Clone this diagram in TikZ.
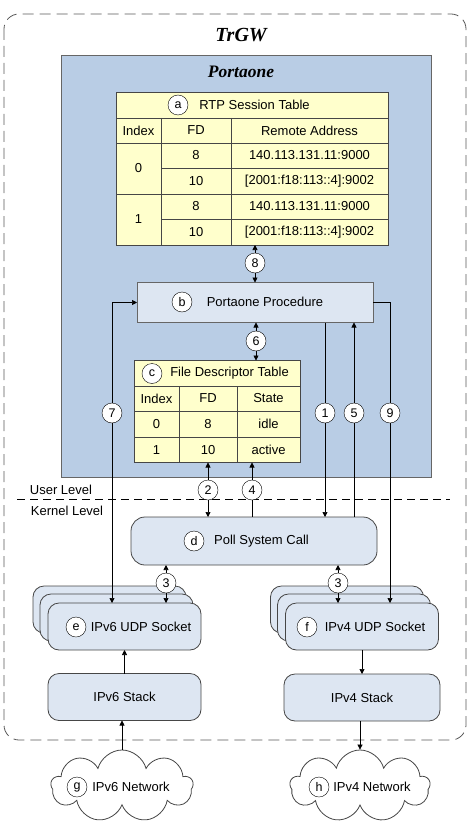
\documentclass[tikz,border=0pt]{standalone}
\usepackage{fontspec}
\setmainfont{Liberation Sans}
\newfontfamily\titlefont{Liberation Serif}
\usetikzlibrary{arrows.meta,shapes.symbols,positioning}

\definecolor{portablue}{RGB}{185,205,229}
\definecolor{procblue}{RGB}{221,230,242}
\definecolor{tableyellow}{RGB}{255,255,204}
\definecolor{linegray}{RGB}{70,70,70}

\begin{document}
\begin{tikzpicture}[x=1pt,y=-1pt,>={Triangle[length=5pt,width=5pt]},
  font=\fontsize{13}{15}\selectfont,
  tag/.style={circle,draw,fill=white,inner sep=0pt,minimum size=20pt,font=\fontsize{12.5}{12}\selectfont},
  tbl/.style={draw=linegray,fill=tableyellow,line width=0.8pt,inner sep=0pt,outer sep=0pt},
  grid/.style={draw=linegray,line width=0.8pt},
  kbox/.style={draw=linegray,fill=procblue,line width=0.8pt,rounded corners=11pt,minimum width=153pt,minimum height=47pt,inner sep=0pt,outer sep=0pt},
  conn/.style={line width=0.7pt}]
\useasboundingbox (0,0) rectangle (472,837);

%TrGW
\draw[gray!70!black,line width=0.8pt,dash pattern=on 11pt off 6pt,rounded corners=15pt] (4,14) rectangle (466,740);
\node[font=\titlefont\fontsize{20}{22}\selectfont\bfseries\itshape] (trgw) at (241,35) {TrGW};

%Portaone
\node[draw=gray!80!black,fill=portablue,line width=0.8pt,minimum width=370pt,minimum height=422pt,inner sep=0pt] (porta) at (246,266) {};
\node[font=\titlefont\fontsize{17.5}{20}\selectfont\bfseries\itshape] (portatitle) at (241,72) {Portaone};

%RTP Session Table
\node[tbl,minimum width=272pt,minimum height=153pt] (rtp) at (252,168.5) {};
\foreach \y in {118,143,194} \draw[grid] (116,\y) -- (388,\y);
\foreach \y in {168,219} \draw[grid] (161,\y) -- (388,\y);
\foreach \x in {161,231} \draw[grid] (\x,118) -- (\x,245);
\node[tag] (taga) at (178,105) {a};
\node (rtptitle) at (254.5,105) {RTP Session Table};
\node (rtpidx) at (138.5,130.5) {Index};
\node (rtpfd) at (196,130.5) {FD};
\node (rtpaddr) at (309.5,130.5) {Remote Address};
\node (rtpi0) at (138.5,168.5) {0};
\node (rtpi1) at (138.5,219.5) {1};
\foreach \y/\fd/\addr in {155.5/8/{140.113.131.11:9000},181/10/{[2001:f18:113::4]:9002},206.5/8/{140.113.131.11:9000},232/10/{[2001:f18:113::4]:9002}}{
  \node at (196,\y) {\fd};
  \node at (309.5,\y) {\addr};
}

%Portaone Procedure
\node[draw=gray!80!black,fill=procblue,line width=0.8pt,minimum width=236pt,minimum height=40pt,inner sep=0pt,outer sep=0pt] (proc) at (255,302.5) {};
\node[tag] (tagb) at (182,302) {b};
\node (proctext) at (265,302) {Portaone Procedure};

%File Descriptor Table
\node[tbl,minimum width=166pt,minimum height=102pt] (fdt) at (217,411.5) {};
\foreach \y in {386,411,437} \draw[grid] (134,\y) -- (300,\y);
\foreach \x in {179,237} \draw[grid] (\x,386) -- (\x,462.5);
\node[tag] (tagc) at (152,373.5) {c};
\node (fdttitle) at (229.5,373.5) {File Descriptor Table};
\node (fdtidx) at (156.5,398.5) {Index};
\node (fdtfd) at (208,398.5) {FD};
\node (fdtstate) at (268.5,398.5) {State};
\foreach \y/\i/\fd/\st in {424/0/8/idle,450/1/10/active}{
  \node at (156.5,\y) {\i};
  \node at (208,\y) {\fd};
  \node at (268.5,\y) {\st};
}

%User Level / Kernel Level
\draw[line width=0.8pt,dash pattern=on 8pt off 5pt] (17,499) -- (450,499);
\node (user) at (61,490) {User Level};
\node (kernel) at (67,511) {Kernel Level};

%Poll System Call
\node[kbox,minimum width=246pt,minimum height=48pt,rounded corners=14pt] (poll) at (254,541) {};
\node[tag] (tagd) at (194,541) {d};
\node (polltext) at (261.5,541) {Poll System Call};

%UDP Sockets
\foreach \dx/\dy in {-15/-17,-8/-9}{
  \node[kbox] at ({124.5+(\dx)},{626.5+(\dy)}) {};
  \node[kbox] at ({362+(\dx)},{626.5+(\dy)}) {};
}
\node[kbox] (v6sock) at (124.5,626.5) {};
\node[tag] (tage) at (76,627) {e};
\node (v6socktext) at (141,627) {IPv6 UDP Socket};
\node[kbox] (v4sock) at (362,626.5) {};
\node[tag] (tagf) at (307,627) {f};
\node (v4socktext) at (375,627) {IPv4 UDP Socket};

%Stacks
\node[kbox] (v6stack) at (124.5,697) {IPv6 Stack};
\node[kbox,minimum width=156pt] (v4stack) at (362,697.5) {IPv4 Stack};

%Networks
\node[cloud,cloud puffs=9,aspect=2.1,draw=linegray,fill=white,line width=0.8pt,minimum width=142pt,minimum height=72pt,inner sep=0pt] (v6net) at (122,786) {};
\node[tag] (tagg) at (77,787) {g};
\node (v6nettext) at (131,787) {IPv6 Network};
\node[cloud,cloud puffs=9,aspect=2.1,draw=linegray,fill=white,line width=0.8pt,minimum width=140pt,minimum height=72pt,inner sep=0pt] (v4net) at (360,786) {};
\node[tag] (tagh) at (319,787) {h};
\node (v4nettext) at (372,787) {IPv4 Network};

%Steps
\node[tag] (n8) at (255,263) {8};
\draw[conn,->] (n8) -- (rtp.south -| n8);
\draw[conn,->] (n8) -- (proc.north -| n8);
\node[tag] (n6) at (256,341) {6};
\draw[conn,->] (n6) -- (proc.south -| n6);
\draw[conn,->] (n6) -- (fdt.north -| n6);
\node[tag] (n7) at (112,413) {7};
\draw[conn,->] (n7) |- (proc.west);
\draw[conn,->] (n7) -- (n7 |- v6sock.north);
\node[tag] (n1) at (325,413) {1};
\draw[conn] (proc.south -| n1) -- (n1);
\draw[conn,->] (n1) -- (poll.north -| n1);
\node[tag] (n5) at (354,413) {5};
\draw[conn,->] (n5) -- (proc.south -| n5);
\draw[conn] (poll.north -| n5) -- (n5);
\node[tag] (n9) at (390,413) {9};
\draw[conn] (proc.east) -| (n9);
\draw[conn,->] (n9) -- (n9 |- v4sock.north);
\node[tag] (n2) at (208,490) {2};
\draw[conn,->] (n2) -- (fdt.south -| n2);
\draw[conn,->] (n2) -- (poll.north -| n2);
\node[tag] (n4) at (252,490) {4};
\draw[conn,->] (n4) -- (fdt.south -| n4);
\draw[conn] (n4) -- (poll.north -| n4);
\node[tag] (n3a) at (166,583) {3};
\draw[conn,->] (n3a) -- (poll.south -| n3a);
\draw[conn,->] (n3a) -- (v6sock.north -| n3a);
\node[tag] (n3b) at (338,583) {3};
\draw[conn,->] (n3b) -- (poll.south -| n3b);
\draw[conn,->] (n3b) -- (v4sock.north -| n3b);

\draw[conn,->] (v6stack) -- (v6sock);
\draw[conn,->] (v4sock) -- (v4stack);
\draw[conn,->] (v6net.north) -- (v6net.north |- v6stack.south);
\draw[conn,->] (v4stack.south -| v4net.north) -- (v4net.north);
\end{tikzpicture}
\end{document}
